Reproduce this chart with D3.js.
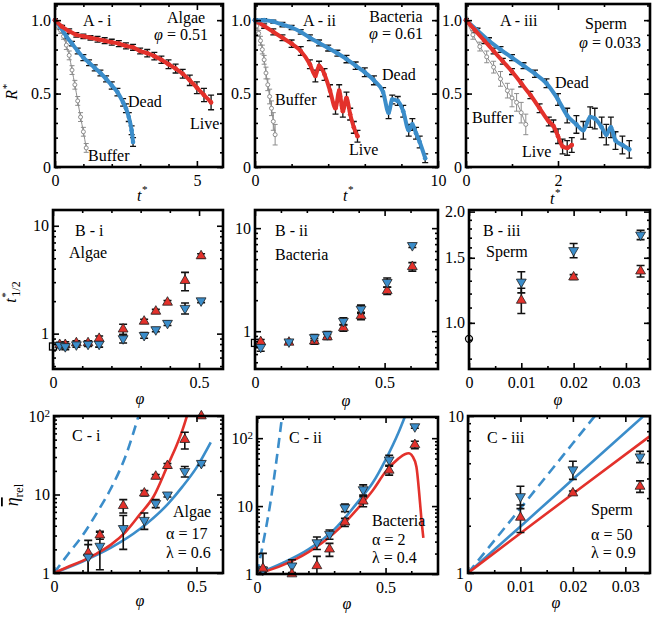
<!DOCTYPE html>
<html>
<head>
<meta charset="utf-8">
<script src="https://cdn.jsdelivr.net/npm/d3@7"></script>
<style>
body { margin: 0; background: #fff; }
svg { display: block; }
text { font-family: "Liberation Serif", "DejaVu Serif", "Times New Roman", serif; }
</style>
</head>
<body>
<svg id="fig" width="654" height="622"></svg>
<script>

// Row A : R* vs t*
//---------
var algaeLiveT = [0, 0.25, 0.5, 0.75, 1.0, 1.25, 1.5, 1.75, 2.0, 2.25, 2.5, 2.75, 3.0, 3.25, 3.5, 3.75, 4.0, 4.25, 4.5, 4.75, 5.0, 5.25, 5.5];
var algaeLiveR = [1.0, 0.955, 0.925, 0.90, 0.89, 0.88, 0.87, 0.86, 0.85, 0.84, 0.825, 0.815, 0.79, 0.775, 0.755, 0.73, 0.70, 0.67, 0.635, 0.59, 0.54, 0.49, 0.44];
var algaeLiveE = [0.01, 0.01, 0.015, 0.015, 0.015, 0.015, 0.02, 0.02, 0.02, 0.02, 0.02, 0.02, 0.02, 0.025, 0.025, 0.025, 0.03, 0.03, 0.03, 0.035, 0.04, 0.045, 0.05];
var algaeDeadT = [0, 0.2, 0.4, 0.6, 0.8, 1.0, 1.2, 1.4, 1.6, 1.8, 2.0, 2.2, 2.4, 2.5, 2.6, 2.7, 2.75];
var algaeDeadR = [1.0, 0.95, 0.89, 0.84, 0.79, 0.745, 0.71, 0.675, 0.64, 0.60, 0.555, 0.51, 0.44, 0.40, 0.34, 0.25, 0.17];
var algaeDeadE = [0.01, 0.015, 0.015, 0.015, 0.02, 0.02, 0.02, 0.02, 0.02, 0.02, 0.025, 0.025, 0.025, 0.03, 0.03, 0.03, 0.03];
var algaeBufT = [0, 0.1, 0.2, 0.3, 0.4, 0.5, 0.6, 0.7, 0.8, 0.9, 1.0, 1.1];
var algaeBufR = [1.0, 0.96, 0.93, 0.89, 0.83, 0.76, 0.66, 0.56, 0.45, 0.34, 0.24, 0.13];
var algaeBufE = [0.01, 0.02, 0.02, 0.02, 0.03, 0.03, 0.03, 0.03, 0.03, 0.03, 0.03, 0.03];

var bactDeadT = [0, 0.5, 1, 1.5, 2, 2.5, 3, 3.5, 4, 4.5, 5, 5.5, 6, 6.5, 7, 7.3, 7.5, 7.8, 8.1, 8.4, 8.6, 8.8, 9.0, 9.3];
var bactDeadR = [1.0, 1.0, 0.99, 0.97, 0.95, 0.92, 0.88, 0.845, 0.81, 0.775, 0.735, 0.69, 0.645, 0.59, 0.51, 0.37, 0.46, 0.45, 0.38, 0.25, 0.29, 0.23, 0.17, 0.06];
var bactDeadE = [0.01, 0.01, 0.01, 0.015, 0.015, 0.015, 0.02, 0.02, 0.02, 0.02, 0.025, 0.025, 0.03, 0.03, 0.03, 0.04, 0.03, 0.03, 0.04, 0.04, 0.04, 0.04, 0.04, 0.03];
var bactLiveT = [0, 0.5, 1, 1.5, 2, 2.5, 3.0, 3.3, 3.5, 3.8, 4.1, 4.4, 4.6, 4.8, 5.0, 5.2, 5.4, 5.6];
var bactLiveR = [1.0, 0.96, 0.92, 0.88, 0.84, 0.79, 0.70, 0.62, 0.69, 0.63, 0.52, 0.40, 0.52, 0.38, 0.47, 0.36, 0.27, 0.21];
var bactLiveE = [0.01, 0.015, 0.02, 0.02, 0.025, 0.03, 0.03, 0.04, 0.03, 0.04, 0.04, 0.04, 0.04, 0.04, 0.04, 0.04, 0.04, 0.04];
var bactBufT = [0, 0.1, 0.2, 0.3, 0.4, 0.5, 0.6, 0.7, 0.8, 0.9, 1.0, 1.1];
var bactBufR = [1.0, 0.96, 0.91, 0.86, 0.80, 0.73, 0.64, 0.56, 0.48, 0.40, 0.31, 0.22];
var bactBufE = [0.01, 0.02, 0.02, 0.03, 0.03, 0.03, 0.04, 0.04, 0.05, 0.05, 0.06, 0.07];

var spermDeadT = [0, 0.25, 0.5, 0.75, 1.0, 1.25, 1.5, 1.75, 2.0, 2.2, 2.4, 2.55, 2.7, 2.8, 2.95, 3.05, 3.15, 3.25, 3.4, 3.55];
var spermDeadR = [1.0, 0.93, 0.86, 0.80, 0.745, 0.69, 0.635, 0.57, 0.46, 0.35, 0.29, 0.25, 0.34, 0.33, 0.27, 0.22, 0.27, 0.18, 0.15, 0.12];
var spermDeadE = [0.01, 0.015, 0.02, 0.02, 0.02, 0.02, 0.025, 0.03, 0.04, 0.05, 0.06, 0.06, 0.07, 0.07, 0.07, 0.07, 0.07, 0.06, 0.06, 0.06];
var spermLiveT = [0, 0.2, 0.4, 0.6, 0.8, 1.0, 1.2, 1.4, 1.6, 1.8, 1.9, 2.0, 2.1, 2.2, 2.3];
var spermLiveR = [1.0, 0.93, 0.86, 0.79, 0.72, 0.65, 0.57, 0.49, 0.40, 0.31, 0.28, 0.21, 0.14, 0.13, 0.15];
var spermLiveE = [0.01, 0.015, 0.02, 0.02, 0.02, 0.02, 0.025, 0.025, 0.03, 0.03, 0.04, 0.05, 0.05, 0.05, 0.05];
var spermBufT = [0, 0.15, 0.3, 0.45, 0.6, 0.75, 0.9, 1.0, 1.1, 1.2, 1.3];
var spermBufR = [1.0, 0.90, 0.82, 0.75, 0.68, 0.60, 0.52, 0.47, 0.44, 0.37, 0.29];
var spermBufE = [0.02, 0.03, 0.03, 0.04, 0.04, 0.05, 0.05, 0.06, 0.06, 0.07, 0.07];

// Row B : t*1/2 vs phi
//---------
var algaePhiB = [0.023, 0.042, 0.08, 0.12, 0.158, 0.24, 0.312, 0.352, 0.392, 0.452, 0.507];
var algaeHalfLive = [0.79, 0.79, 0.82, 0.82, 0.90, 1.10, 1.30, 1.61, 1.95, 3.1, 5.25];
var algaeHalfLiveErr = [0.04, 0.05, 0.04, 0.04, 0.05, 0.12, 0.06, 0.07, 0.08, 0.6, 0.25];
var algaeHalfDead = [0.78, 0.76, 0.79, 0.80, 0.80, 0.90, 0.965, 1.09, 1.25, 1.72, 2.02];
var algaeHalfDeadErr = [0.04, 0.05, 0.04, 0.04, 0.05, 0.08, 0.06, 0.05, 0.06, 0.2, 0.08];
var algaeHalfBuffer = [0.76];

var bactPhiB = [0.022, 0.131, 0.229, 0.279, 0.341, 0.409, 0.51, 0.607];
var bactHalfLive = [0.79, 0.78, 0.80, 0.88, 1.08, 1.41, 2.47, 4.23];
var bactHalfLiveErr = [0.04, 0.03, 0.05, 0.05, 0.08, 0.12, 0.2, 0.4];
var bactHalfDead = [0.70, 0.79, 0.87, 0.93, 1.25, 1.64, 2.98, 6.8];
var bactHalfDeadErr = [0.06, 0.03, 0.06, 0.06, 0.1, 0.15, 0.3, 0.3];
var bactHalfBuffer = [0.77];

var spermPhiB = [0.01, 0.02, 0.0328];
var spermHalfLive = [1.15, 1.33, 1.38];
var spermHalfLiveErr = [0.09, 0.02, 0.05];
var spermHalfDead = [1.29, 1.57, 1.73];
var spermHalfDeadErr = [0.085, 0.07, 0.05];
var spermHalfBuffer = [0.905];

// Row C : relative viscosity vs phi
//---------
var algaePhiC = [0.12, 0.161, 0.243, 0.317, 0.357, 0.398, 0.459, 0.517];
var algaeEtaLive = [1.8, 3.04, 7.2, 10.4, 17, 23.3, 50, 100];
var algaeEtaLiveErr = [0.8, 0.35, 1.4, 0.8, 1, 1.5, 12, 5];
var algaeEtaDead = [1.6, 2.2, 3.7, 4.7, 7.7, 9.9, 19.7, 25];
var algaeEtaDeadErr = [0.7, 1.1, 1.7, 1.1, 0.9, 0.6, 3, 1.5];
var algaeFitLivePhi = [0, 0.05, 0.1, 0.15, 0.2, 0.25, 0.3, 0.35, 0.4, 0.43, 0.45, 0.47];
var algaeFitLiveEta = [1, 1.2, 1.43, 1.77, 2.3, 3.3, 5.5, 9.5, 24, 42, 65, 110];
var algaeFitDeadPhi = [0, 0.1, 0.2, 0.3, 0.4, 0.45, 0.5, 0.55];
var algaeFitDeadEta = [1, 1.4, 2.1, 3.6, 7.6, 12.5, 22, 46];
var algaeFitPassivePhi = [0, 0.05, 0.1, 0.15, 0.2, 0.25, 0.3];
var algaeFitPassiveEta = [1, 1.75, 3.0, 5.8, 12, 30, 110];

var bactPhiC = [0.023, 0.136, 0.233, 0.282, 0.342, 0.413, 0.514, 0.614];
var bactEtaLive = [1.21, 1.0, 1.32, 2.32, 5.8, 11.8, 33.6, 80];
var bactEtaLiveErr = [0.8, 0.05, 0.5, 0.5, 0.8, 2, 5, 10];
var bactEtaDead = [1.15, 1.32, 2.9, 3.85, 9.5, 17.5, 48, 148];
var bactEtaDeadErr = [0.1, 0.3, 0.6, 0.6, 1.2, 3, 8, 8];
var bactFitLivePhi = [0, 0.1, 0.2, 0.3, 0.4, 0.45, 0.5, 0.55, 0.575, 0.59, 0.605, 0.62, 0.633, 0.642, 0.647];
var bactFitLiveEta = [1, 1.35, 2.1, 4.0, 10, 17, 32, 50, 58, 60, 54, 38, 12.5, 5.1, 3.4];
var bactFitDeadPhi = [0, 0.1, 0.2, 0.3, 0.4, 0.45, 0.5, 0.55, 0.58];
var bactFitDeadEta = [1, 1.45, 2.3, 4.5, 12.5, 22, 48, 120, 230];
var bactFitPassivePhi = [0, 0.025, 0.05, 0.075, 0.1];
var bactFitPassiveEta = [1, 3.0, 10, 45, 250];

var spermPhiC = [0.01, 0.02, 0.0328];
var spermEtaLive = [2.26, 3.23, 3.56];
var spermEtaLiveErr = [0.45, 0.1, 0.3];
var spermEtaDead = [3.07, 4.55, 5.5];
var spermEtaDeadErr = [0.5, 0.6, 0.45];
var spermFitLivePhi = [0, 0.01, 0.02, 0.0346];
var spermFitLiveEta = [1, 1.79, 3.2, 7.4];
var spermFitDeadPhi = [0, 0.01, 0.02, 0.0346];
var spermFitDeadEta = [1, 1.98, 3.95, 10.8];
var spermFitPassivePhi = [0, 0.01, 0.02, 0.0245];
var spermFitPassiveEta = [1, 2.58, 6.7, 10.3];

var RED = "#e3312b", BLUE = "#3b8dca", GREY = "#8c8c8c";
var FONT = 16;
var SERIF = "'Liberation Serif', 'DejaVu Serif', 'Times New Roman', serif";

var svg = d3.select("#fig").attr("font-family", SERIF);
var clipCount = 0;

// Panel helpers
//---------
function makePanel(box, xDom, yDom, yLog) {
	var w = box[2] - box[0], h = box[3] - box[1];
	var g = svg.append("g").attr("transform", "translate(" + box[0] + "," + box[1] + ")");
	var x = d3.scaleLinear().domain(xDom).range([0, w]);
	var y = (yLog ? d3.scaleLog() : d3.scaleLinear()).domain(yDom).range([h, 0]);
	var id = "clip" + (clipCount++);
	g.append("clipPath").attr("id", id).append("rect").attr("width", w).attr("height", h);
	var plot = g.append("g").attr("clip-path", "url(#" + id + ")");
	var bars = g.append("g").attr("clip-path", "url(#" + id + ")");
	var marks = g.append("g");
	return {g: g, plot: plot, bars: bars, marks: marks, x: x, y: y, w: w, h: h};
}

function addAxes(p, o) {
	var g = p.g, x = p.x, y = p.y;
	function ax(axis, tx, ty) {
		var a = g.append("g").attr("transform", "translate(" + tx + "," + ty + ")").call(axis);
		a.select(".domain").remove();
		a.attr("font-family", SERIF).attr("font-size", FONT);
		a.selectAll("line").attr("stroke-width", 1.6);
		return a;
	}
	var none = function() { return ""; };
	ax(d3.axisBottom(x).tickValues(o.xMinor).tickSize(-3).tickFormat(none), 0, p.h);
	ax(d3.axisTop(x).tickValues(o.xMinor).tickSize(-3).tickFormat(none), 0, 0);
	ax(d3.axisBottom(x).tickValues(o.xMajor).tickSize(-6).tickPadding(8).tickFormat(o.xFmt), 0, p.h);
	ax(d3.axisTop(x).tickValues(o.xMajor).tickSize(-6).tickFormat(none), 0, 0);
	ax(d3.axisLeft(y).tickValues(o.yMinor).tickSize(-3).tickFormat(none), 0, 0);
	ax(d3.axisRight(y).tickValues(o.yMinor).tickSize(-3).tickFormat(none), p.w, 0);
	var yl = ax(d3.axisLeft(y).tickValues(o.yMajor).tickSize(-6).tickPadding(4).tickFormat(o.yFmt), 0, 0);
	ax(d3.axisRight(y).tickValues(o.yMajor).tickSize(-6).tickFormat(none), p.w, 0);
	// 10^2 label
	yl.selectAll("text").filter(function(d) { return d === 100; })
		.text("10").append("tspan").attr("dy", "-0.45em").attr("font-size", 11).text("2");
	g.append("rect").attr("width", p.w).attr("height", p.h)
		.attr("fill", "none").attr("stroke", "#000").attr("stroke-width", 2.6);
}

function errBars(p, xs, ys, es, cap, color, sw) {
	var lo = p.y.domain()[0] * 0.5;
	p.bars.append("g").attr("stroke", color).attr("stroke-width", sw).attr("fill", "none")
		.selectAll("path").data(xs).join("path")
		.attr("d", function(d, i) {
			var X = p.x(d), a = p.y(Math.max(ys[i] - es[i], lo)), b = p.y(ys[i] + es[i]);
			return "M" + X + "," + a + "V" + b + "M" + (X - cap) + "," + a + "H" + (X + cap) + "M" + (X - cap) + "," + b + "H" + (X + cap);
		});
}

function decayCurve(p, ts, rs, es, color, kind) {
	var idx = d3.range(ts.length);
	var line = d3.line().x(function(i) { return p.x(ts[i]); }).y(function(i) { return p.y(rs[i]); }).curve(d3.curveMonotoneX);
	if (kind === "buffer") {
		errBars(p, ts, rs, es, 2.5, GREY, 1);
		p.marks.append("path").datum(idx).attr("d", line)
			.attr("fill", "none").attr("stroke", GREY).attr("stroke-width", 1);
		p.marks.append("g").selectAll("circle").data(idx).join("circle")
			.attr("cx", function(i) { return p.x(ts[i]); }).attr("cy", function(i) { return p.y(rs[i]); })
			.attr("r", 2).attr("fill", "#fff").attr("stroke", GREY).attr("stroke-width", 1);
		return;
	}
	errBars(p, ts, rs, es, 3, "#111", 1.3);
	p.marks.append("path").datum(idx).attr("d", line)
		.attr("fill", "none").attr("stroke", color).attr("stroke-width", 4).attr("stroke-linecap", "round");
	p.marks.append("g").selectAll("circle").data(idx).join("circle")
		.attr("cx", function(i) { return p.x(ts[i]); }).attr("cy", function(i) { return p.y(rs[i]); })
		.attr("r", 2.3).attr("fill", color);
}

function triangles(p, xs, ys, es, color, up) {
	errBars(p, xs, ys, es, 4, "#111", 1.6);
	var sym = d3.symbol().type(d3.symbolTriangle).size(42);
	p.marks.append("g").selectAll("path").data(xs).join("path")
		.attr("transform", function(d, i) { return "translate(" + p.x(d) + "," + p.y(ys[i]) + ")" + (up ? "" : " rotate(180)"); })
		.attr("d", sym).attr("fill", color).attr("stroke", "#222").attr("stroke-width", 0.8);
}

function fitLine(p, xs, ys, color, dashed) {
	p.plot.append("path").datum(d3.range(xs.length))
		.attr("d", d3.line().x(function(i) { return p.x(xs[i]); }).y(function(i) { return p.y(ys[i]); }).curve(d3.curveMonotoneX))
		.attr("fill", "none").attr("stroke", color).attr("stroke-width", 2.6)
		.attr("stroke-dasharray", dashed ? "10,6" : null);
}

function label(x, y, str, anchor) {
	return svg.append("text").attr("x", x).attr("y", y).attr("font-size", FONT)
		.attr("text-anchor", anchor || "start").text(str);
}

function phiLabel(x, y, value, anchor) {
	var t = svg.append("text").attr("x", x).attr("y", y).attr("font-size", FONT).attr("text-anchor", anchor || "start");
	t.append("tspan").attr("font-style", "italic").text("φ");
	t.append("tspan").text(" = " + value);
}

function rangeStep(a, b, s) {
	return d3.range(Math.round((b - a) / s) + 1).map(function(i) { return +(a + i * s).toFixed(4); });
}

var fmt1 = function(d) { return d === 0 ? "0" : d.toFixed(1); };
var fmtPlain = function(d) { return String(d); };
var logMinor = function(lo, hi) {
	var out = [];
	[0.1, 1, 10, 100].forEach(function(dec) {
		for (var k = 2; k <= 9; k++) { var v = k * dec; if (v > lo && v < hi) out.push(v); }
	});
	return out;
};

// Row A
//---------
var aY = {yMajor: [0, 0.5, 1.0], yMinor: rangeStep(0, 1.1, 0.1), yFmt: fmt1};

var pA1 = makePanel([55, 4, 223, 167], [0, 5.92], [0, 1.11], false);
addAxes(pA1, Object.assign({xMajor: [0, 5], xMinor: [1, 2, 3, 4], xFmt: fmtPlain}, aY));
decayCurve(pA1, algaeBufT, algaeBufR, algaeBufE, GREY, "buffer");
decayCurve(pA1, algaeDeadT, algaeDeadR, algaeDeadE, BLUE);
decayCurve(pA1, algaeLiveT, algaeLiveR, algaeLiveE, RED);

var pA2 = makePanel([255, 4, 438, 167], [0, 10.0], [0, 1.11], false);
addAxes(pA2, Object.assign({xMajor: [0, 10], xMinor: [2, 4, 6, 8], xFmt: fmtPlain}, aY));
decayCurve(pA2, bactBufT, bactBufR, bactBufE, GREY, "buffer");
decayCurve(pA2, bactLiveT, bactLiveR, bactLiveE, RED);
decayCurve(pA2, bactDeadT, bactDeadR, bactDeadE, BLUE);

var pA3 = makePanel([466, 4, 650, 167], [0, 4.0], [0, 1.11], false);
addAxes(pA3, Object.assign({xMajor: [0, 2], xMinor: [1, 3], xFmt: fmtPlain}, aY));
decayCurve(pA3, spermBufT, spermBufR, spermBufE, GREY, "buffer");
decayCurve(pA3, spermDeadT, spermDeadR, spermDeadE, BLUE);
decayCurve(pA3, spermLiveT, spermLiveR, spermLiveE, RED);

label(83, 26, "A - i");
label(186, 23, "Algae", "middle");
phiLabel(181, 40, "0.51", "middle");
label(128, 107, "Dead");
label(190, 129, "Live");
label(88, 161, "Buffer");

label(303, 26, "A - ii");
label(396, 22, "Bacteria", "middle");
phiLabel(396, 39, "0.61", "middle");
label(382, 80, "Dead");
label(275, 105, "Buffer");
label(349, 155, "Live");

label(500, 26, "A - iii");
label(606, 29, "Sperm", "middle");
phiLabel(610, 48, "0.033", "middle");
label(555, 88, "Dead");
label(472, 123, "Buffer");
label(522, 157, "Live");

// Row B
//---------
var pB1 = makePanel([53, 210, 223, 369], [0, 0.582], [0.47, 14], true);
addAxes(pB1, {xMajor: [0, 0.5], xMinor: [0.1, 0.2, 0.3, 0.4], xFmt: fmtPlain,
	yMajor: [1, 10], yMinor: logMinor(0.47, 14), yFmt: fmtPlain});
pB1.marks.append("rect").attr("x", pB1.x(0) - 3.5).attr("y", pB1.y(algaeHalfBuffer[0]) - 3.5)
	.attr("width", 7).attr("height", 7).attr("fill", "none").attr("stroke", "#000").attr("stroke-width", 1.3);
triangles(pB1, algaePhiB, algaeHalfLive, algaeHalfLiveErr, RED, true);
triangles(pB1, algaePhiB, algaeHalfDead, algaeHalfDeadErr, BLUE, false);

var pB2 = makePanel([255, 210, 438, 369], [0, 0.706], [0.43, 15], true);
addAxes(pB2, {xMajor: [0, 0.5], xMinor: [0.1, 0.2, 0.3, 0.4, 0.6], xFmt: fmtPlain,
	yMajor: [1, 10], yMinor: logMinor(0.43, 15), yFmt: fmtPlain});
pB2.marks.append("rect").attr("x", pB2.x(0) - 3.5).attr("y", pB2.y(bactHalfBuffer[0]) - 3.5)
	.attr("width", 7).attr("height", 7).attr("fill", "none").attr("stroke", "#000").attr("stroke-width", 1.3);
triangles(pB2, bactPhiB, bactHalfLive, bactHalfLiveErr, RED, true);
triangles(pB2, bactPhiB, bactHalfDead, bactHalfDeadErr, BLUE, false);

var pB3 = makePanel([469, 210, 650, 369], [0, 0.0346], [0.75, 2.02], true);
addAxes(pB3, {xMajor: [0, 0.01, 0.02, 0.03], xMinor: [0.005, 0.015, 0.025], xFmt: fmtPlain,
	yMajor: [1.0, 1.5, 2.0], yMinor: rangeStep(0.8, 1.9, 0.1), yFmt: function(d) { return d.toFixed(1); }});
pB3.marks.append("circle").attr("cx", pB3.x(0)).attr("cy", pB3.y(spermHalfBuffer[0]))
	.attr("r", 3.5).attr("fill", "none").attr("stroke", "#000").attr("stroke-width", 1.3);
triangles(pB3, spermPhiB, spermHalfLive, spermHalfLiveErr, RED, true);
triangles(pB3, spermPhiB, spermHalfDead, spermHalfDeadErr, BLUE, false);

label(75, 236, "B - i");
label(69, 258, "Algae");
label(275, 236, "B - ii");
label(275, 260, "Bacteria");
label(483, 236, "B - iii");
label(486, 257, "Sperm");

// Row C
//---------
var pC1 = makePanel([54, 416, 223, 573], [0, 0.593], [1, 100], true);
addAxes(pC1, {xMajor: [0, 0.5], xMinor: [0.1, 0.2, 0.3, 0.4], xFmt: fmtPlain,
	yMajor: [1, 10, 100], yMinor: logMinor(1, 100), yFmt: fmtPlain});
fitLine(pC1, algaeFitPassivePhi, algaeFitPassiveEta, BLUE, true);
fitLine(pC1, algaeFitDeadPhi, algaeFitDeadEta, BLUE, false);
fitLine(pC1, algaeFitLivePhi, algaeFitLiveEta, RED, false);
triangles(pC1, algaePhiC, algaeEtaLive, algaeEtaLiveErr, RED, true);
triangles(pC1, algaePhiC, algaeEtaDead, algaeEtaDeadErr, BLUE, false);

var pC2 = makePanel([257, 417, 438, 574], [0, 0.704], [1, 205], true);
addAxes(pC2, {xMajor: [0, 0.5], xMinor: [0.1, 0.2, 0.3, 0.4, 0.6], xFmt: fmtPlain,
	yMajor: [1, 10, 100], yMinor: logMinor(1, 205), yFmt: fmtPlain});
fitLine(pC2, bactFitPassivePhi, bactFitPassiveEta, BLUE, true);
fitLine(pC2, bactFitDeadPhi, bactFitDeadEta, BLUE, false);
fitLine(pC2, bactFitLivePhi, bactFitLiveEta, RED, false);
triangles(pC2, bactPhiC, bactEtaDead, bactEtaDeadErr, BLUE, false);
triangles(pC2, bactPhiC, bactEtaLive, bactEtaLiveErr, RED, true);

var pC3 = makePanel([468, 416, 650, 573], [0, 0.0347], [1, 10], true);
addAxes(pC3, {xMajor: [0, 0.01, 0.02, 0.03], xMinor: [0.005, 0.015, 0.025], xFmt: fmtPlain,
	yMajor: [1, 10], yMinor: logMinor(1, 10), yFmt: fmtPlain});
fitLine(pC3, spermFitPassivePhi, spermFitPassiveEta, BLUE, true);
fitLine(pC3, spermFitDeadPhi, spermFitDeadEta, BLUE, false);
fitLine(pC3, spermFitLivePhi, spermFitLiveEta, RED, false);
triangles(pC3, spermPhiC, spermEtaLive, spermEtaLiveErr, RED, true);
triangles(pC3, spermPhiC, spermEtaDead, spermEtaDeadErr, BLUE, false);

label(72, 441, "C - i");
label(173, 517, "Algae");
label(166, 539, "α = 17");
label(166, 558, "λ =  0.6");
label(289, 443, "C - ii");
label(372, 526, "Bacteria");
label(372, 545, "α = 2");
label(372, 563, "λ =  0.4");
label(487, 443, "C - iii");
label(591, 515, "Sperm");
label(591, 540, "α = 50");
label(591, 558, "λ =  0.9");

// Axis titles
//---------
[[137, 201], [343, 201], [550, 204]].forEach(function(p) {
	var t = svg.append("text").attr("x", p[0]).attr("y", p[1]).attr("font-size", FONT).attr("font-style", "italic");
	t.append("tspan").text("t");
	t.append("tspan").attr("dy", -8).attr("font-size", 11).text("*");
});
[[140, 404], [346, 406], [558, 405], [140, 606], [347, 609], [556, 608]].forEach(function(p) {
	svg.append("text").attr("x", p[0]).attr("y", p[1]).attr("font-size", FONT).attr("font-style", "italic")
		.attr("text-anchor", "middle").text("φ");
});

var rl = svg.append("text").attr("transform", "translate(17,92) rotate(-90)").attr("font-size", FONT)
	.attr("text-anchor", "middle").attr("font-style", "italic");
rl.append("tspan").text("R");
rl.append("tspan").attr("dy", -7).attr("font-size", 11).text("*");

var tl = svg.append("text").attr("transform", "translate(16,292) rotate(-90)").attr("font-size", FONT)
	.attr("text-anchor", "middle").attr("font-style", "italic");
tl.append("tspan").text("t");
tl.append("tspan").attr("dy", -7).attr("font-size", 11).text("*");
tl.append("tspan").attr("dx", -4).attr("dy", 11).attr("font-size", 12).attr("font-style", "normal").text("1/2");

var el = svg.append("text").attr("transform", "translate(18,495) rotate(-90)").attr("font-size", FONT + 2)
	.attr("text-anchor", "middle");
el.append("tspan").attr("font-style", "italic").attr("text-decoration", "overline").text("η");
el.append("tspan").attr("dy", 5).attr("font-size", 13).text("rel");

</script>
</body>
</html>
